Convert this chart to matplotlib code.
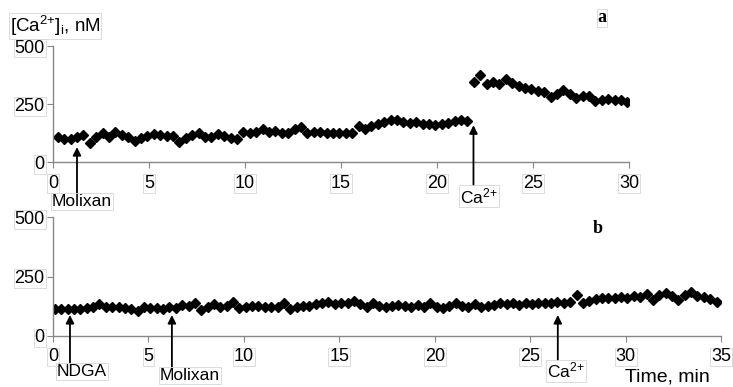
import numpy as np
import matplotlib.pyplot as plt

plt.rcParams['font.family'] = ['Liberation Sans', 'DejaVu Sans']
plt.rcParams['mathtext.fontset'] = 'custom'
plt.rcParams['mathtext.rm'] = 'Liberation Sans'
plt.rcParams['mathtext.it'] = 'Liberation Sans:italic'

# panel a: Molixan, then Ca2+ added at ~22 min (one reading every 20 s)
dt = 1.0 / 3.0
a_before = [109, 99, 99, 109, 116, 83, 109, 124, 109, 131,
            116, 109, 92, 102, 112, 121, 116, 112, 112, 88,
            102, 116, 126, 109, 109, 121, 112, 102, 100, 131,
            124, 131, 141, 131, 134, 124, 127, 141, 152, 124,
            131, 131, 124, 124, 124, 124, 124, 155, 141, 155,
            164, 174, 181, 181, 174, 169, 174, 164, 164, 159,
            164, 169, 178, 181, 178]
a_after = [346, 375, 336, 345, 336, 356, 340, 327, 320, 315,
           306, 300, 281, 295, 310, 295, 275, 283, 283, 265,
           268, 270, 268, 268, 258]
a_start = 0.25

# panel b: NDGA, Molixan, then Ca2+
b_vals = [112, 112, 112, 112, 112, 116, 120, 133, 123, 120,
          123, 116, 112, 106, 123, 116, 116, 112, 123, 116,
          130, 127, 140, 109, 123, 133, 120, 127, 144, 116,
          123, 127, 127, 120, 120, 123, 137, 112, 123, 127,
          127, 133, 137, 144, 133, 137, 137, 146, 133, 123,
          137, 127, 123, 127, 130, 127, 123, 130, 123, 137,
          123, 116, 127, 137, 127, 123, 133, 123, 127, 130,
          140, 134, 140, 130, 137, 134, 140, 137, 140, 144,
          140, 144, 172, 140, 148, 154, 158, 158, 158, 162,
          158, 168, 162, 175, 151, 172, 179, 168, 151, 172,
          183, 168, 162, 154, 144]
b_start = 0.1

t_a1 = a_start + dt * np.arange(len(a_before))
t_a2 = a_start + dt * (len(a_before) + np.arange(len(a_after)))
t_b = b_start + dt * np.arange(len(b_vals))

box = dict(boxstyle='square,pad=0.05', fc='none', ec='#d6d6d6', lw=0.6)
axis_grey = '#888888'

fig = plt.figure(figsize=(7.33, 3.87), dpi=100)
ax1 = fig.add_axes([0.0723, 0.581, 0.7858, 0.300])
ax2 = fig.add_axes([0.0723, 0.132, 0.9113, 0.307])

mk = dict(ls='none', marker='D', ms=5.3, color='black', mec='black')
ax1.plot(t_a1, a_before, **mk)
ax1.plot(t_a2, a_after, **mk)
ax2.plot(t_b, b_vals, **mk)

for ax, xmax in ((ax1, 30), (ax2, 35)):
    ax.set_xlim(0, xmax)
    ax.set_ylim(0, 500)
    ax.set_xticks(np.arange(0, xmax + 1, 5))
    ax.set_yticks([0, 250, 500])
    for s in ('top', 'right'):
        ax.spines[s].set_visible(False)
    for s in ('left', 'bottom'):
        ax.spines[s].set_color(axis_grey)
        ax.spines[s].set_linewidth(1.0)
    ax.tick_params(axis='both', colors=axis_grey, labelcolor='black',
                   labelsize=13, length=4)
    ax.tick_params(axis='x', pad=5)
    ax.tick_params(axis='y', pad=2)
    for lab in ax.get_xticklabels() + ax.get_yticklabels():
        lab.set_bbox(box)

arrow = dict(arrowstyle='-|>', color='black', lw=1.3, mutation_scale=12,
             shrinkA=0, shrinkB=0)


def mark(ax, x, tip, tail, label, lx):
    ax.annotate('', xy=(x, tip), xytext=(x, tail), arrowprops=arrow,
                annotation_clip=False)
    ax.text(lx, tail - 4, label, ha='left', va='top', fontsize=12.5,
            bbox=box, clip_on=False)


ca = 'Ca$^{2{+}}$'
mark(ax1, 1.25, 65, -134, 'Molixan', -0.05)
mark(ax1, 21.9, 159, -99, ca, 21.2)
mark(ax2, 0.89, 88, -113, 'NDGA', 0.2)
mark(ax2, 6.23, 88, -130, 'Molixan', 5.6)
mark(ax2, 26.45, 88, -101, ca, 25.9)

fig.text(10 / 733, 1 - 32 / 387, '[Ca$^{2{+}}$]$_{\\mathregular{i}}$, nM',
         fontsize=13.5, ha='left', va='baseline', bbox=box)
fig.text(625 / 733, 1 - 377 / 387, 'Time, min', fontsize=14,
         ha='left', va='center')
fig.text(602 / 733, 1 - 18 / 387, 'a', fontsize=13, fontweight='bold',
         family='Liberation Serif', ha='center', va='center', bbox=box)
fig.text(598 / 733, 1 - 228 / 387, 'b', fontsize=13, fontweight='bold',
         family='Liberation Serif', ha='center', va='center')

fig.savefig('out.png', dpi=100)
